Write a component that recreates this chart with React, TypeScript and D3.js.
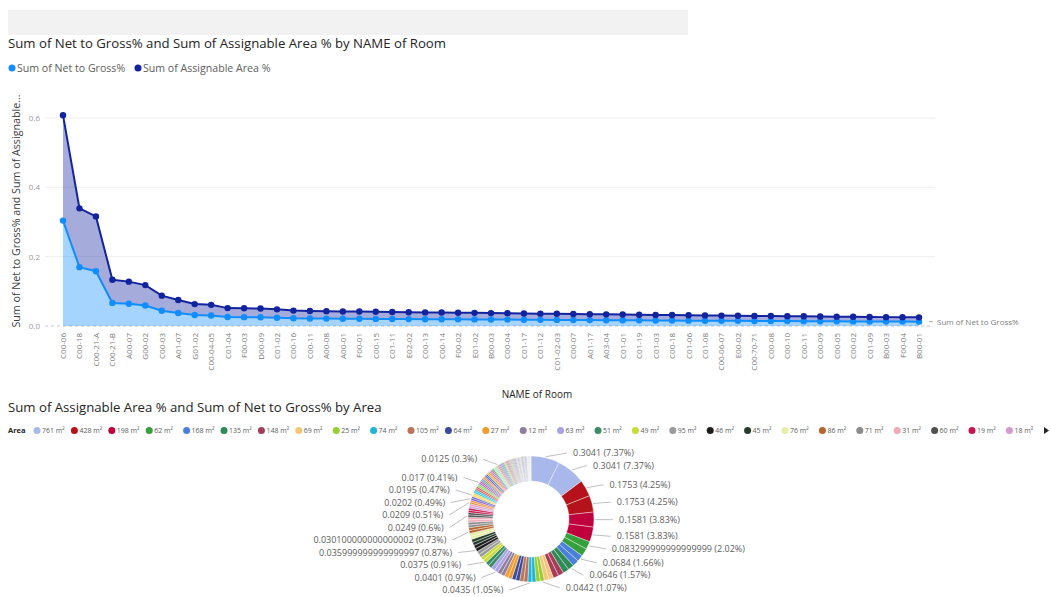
import React from 'react';
import * as d3 from 'd3';

// ---------- Line/area chart data (by NAME of Room) ----------
const roomNames = [
  'C00-06', 'C00-18', 'C00-21-A', 'C00-21-B', 'A00-07', 'G00-02', 'C00-03', 'A01-07', 'G01-02', 'C00-04-05',
  'C01-04', 'F00-03', 'D00-09', 'C01-02', 'C00-16', 'C00-11', 'A00-08', 'A00-01', 'F00-01', 'C00-15',
  'C01-11', 'E02-02', 'C00-13', 'C00-14', 'F00-02', 'E01-02', 'B00-03', 'C00-04', 'C01-17', 'C01-12',
  'C01-02-03', 'C00-07', 'A01-17', 'A03-04', 'C01-01', 'C01-19', 'C01-03', 'C00-18', 'C01-06', 'C01-08',
  'C00-06-07', 'E00-02', 'C00-70-71', 'C00-08', 'C00-10', 'C00-11', 'C00-09', 'C00-05', 'C00-02', 'C01-09',
  'B00-03', 'F00-04', 'B00-01',
];
const netToGross = [
  0.3041, 0.1697, 0.1581, 0.0666, 0.064, 0.059, 0.0438, 0.0376, 0.0316, 0.0305,
  0.0258, 0.0255, 0.0252, 0.024, 0.0222, 0.0216, 0.0214, 0.0209, 0.0209, 0.0205,
  0.0202, 0.0199, 0.0196, 0.0195, 0.0192, 0.019, 0.0186, 0.0185, 0.0181, 0.0178,
  0.0176, 0.0172, 0.017, 0.0168, 0.0165, 0.0163, 0.016, 0.0158, 0.0155, 0.0153,
  0.015, 0.0148, 0.0146, 0.0145, 0.0142, 0.014, 0.0138, 0.0135, 0.0133, 0.013,
  0.0128, 0.0127, 0.0125,
];
const assignableArea = [
  0.3041, 0.1697, 0.1581, 0.0666, 0.064, 0.059, 0.0438, 0.0376, 0.0316, 0.0305,
  0.0258, 0.0255, 0.0252, 0.024, 0.0222, 0.0216, 0.0214, 0.0209, 0.0209, 0.0205,
  0.0202, 0.0199, 0.0196, 0.0195, 0.0192, 0.019, 0.0186, 0.0185, 0.0181, 0.0178,
  0.0176, 0.0172, 0.017, 0.0168, 0.0165, 0.0163, 0.016, 0.0158, 0.0155, 0.0153,
  0.015, 0.0148, 0.0146, 0.0145, 0.0142, 0.014, 0.0138, 0.0135, 0.0133, 0.013,
  0.0128, 0.0127, 0.0125,
];
const yTicks = [0, 0.2, 0.4, 0.6];
const seriesNames = ['Sum of Net to Gross%', 'Sum of Assignable Area %'];
const seriesColors = ['#118DFF', '#12239E'];

// ---------- Donut data (by Area) ----------
const areaNames = [
  '761 m²', '428 m²', '198 m²', '62 m²', '168 m²', '135 m²', '148 m²', '69 m²', '25 m²', '74 m²',
  '105 m²', '64 m²', '27 m²', '12 m²', '63 m²', '51 m²', '49 m²', '95 m²', '46 m²', '45 m²',
  '76 m²', '86 m²', '71 m²', '31 m²', '60 m²', '19 m²', '18 m²', '56 m²', '38 m²', '22 m²',
  '33 m²', '41 m²', '29 m²', '52 m²', '17 m²', '24 m²', '36 m²', '15 m²', '21 m²', '43 m²',
  '14 m²', '26 m²', '34 m²', '16 m²', '28 m²', '13 m²', '23 m²', '11 m²', '32 m²', '20 m²',
  '10 m²', '9 m²', '37 m²', '8 m²', '30 m²', '7 m²', '35 m²', '6 m²', '5 m²', '4 m²',
];
const areaAssignable = [
  0.3041, 0.1753, 0.1581, 0.0833, 0.0684, 0.0646, 0.0587, 0.0485, 0.0442, 0.0435,
  0.0428, 0.042, 0.0412, 0.0405, 0.0401, 0.0392, 0.0375, 0.0368, 0.036, 0.0342,
  0.0325, 0.0301, 0.0285, 0.0267, 0.0249, 0.0236, 0.0222, 0.0209, 0.0202, 0.0195,
  0.019, 0.0185, 0.0178, 0.017, 0.0165, 0.016, 0.0155, 0.015, 0.0145, 0.014,
  0.0135, 0.013, 0.0125, 0.0122, 0.012, 0.0118, 0.0115, 0.0112, 0.011, 0.0108,
  0.0105, 0.0102, 0.01, 0.0098, 0.0095, 0.0092, 0.009, 0.0088, 0.0085, 0.0062,
];
const areaNetToGross = [
  0.3041, 0.1753, 0.1581, 0.0833, 0.0684, 0.0646, 0.0587, 0.0485, 0.0442, 0.0435,
  0.0428, 0.042, 0.0412, 0.0405, 0.0401, 0.0392, 0.0375, 0.0368, 0.036, 0.0342,
  0.0325, 0.0301, 0.0285, 0.0267, 0.0249, 0.0236, 0.0222, 0.0209, 0.0202, 0.0195,
  0.019, 0.0185, 0.0178, 0.017, 0.0165, 0.016, 0.0155, 0.015, 0.0145, 0.014,
  0.0135, 0.013, 0.0125, 0.0122, 0.012, 0.0118, 0.0115, 0.0112, 0.011, 0.0108,
  0.0105, 0.0102, 0.01, 0.0098, 0.0095, 0.0092, 0.009, 0.0088, 0.0085, 0.0062,
];
const areaColors = [
  '#a9b8ea', '#b5121b', '#c0003c', '#36a03c', '#4b7fdc', '#2e8b57', '#a83a5a', '#f5c57a', '#9acd32', '#1fb5d8',
  '#b87358', '#3b4a9a', '#f39a2d', '#8e7f9e', '#a9a2e6', '#3c8c6c', '#c9dc3c', '#9b9b9b', '#1e1e1e', '#243d2c',
  '#e6efa8', '#b6632e', '#8c8c8c', '#eeaab8', '#505050', '#c81450', '#d59ad0', '#f08c3c', '#6a5acd', '#ffd24d',
  '#20c0e0', '#e05050', '#7fd35f', '#c050c0', '#5f9ea0', '#ff7f50', '#4169e1', '#daa520', '#e066a0', '#708090',
  '#90ee90', '#b0c4de', '#cd853f', '#9370db', '#20b2aa', '#f4a460', '#778899', '#db7093', '#8fbc8f', '#bc8f8f',
  '#6495ed', '#d2b48c', '#a0a0b0', '#c0c0d0', '#8a8aa8', '#b0b0c8', '#9090a8', '#d0d0e0', '#c8c8d8', '#e4e4ee',
];
// value texts as Power BI printed them (floating point artefacts)
const donutRawText: Record<string, string> = {
  '3-asg': '0.083299999999999999',
  '18-asg': '0.035999999999999997',
  '21-asg': '0.030100000000000002',
};
const labeledSlices: [number, string][] = [
  [0, 'asg'], [0, 'net'], [1, 'asg'], [1, 'net'], [2, 'asg'], [2, 'net'], [3, 'asg'], [4, 'asg'], [5, 'asg'],
  [8, 'asg'], [9, 'net'], [14, 'asg'], [16, 'asg'], [18, 'asg'], [21, 'asg'], [24, 'asg'], [27, 'asg'],
  [28, 'asg'], [29, 'asg'], [33, 'asg'], [42, 'asg'],
];
const legendCount = 27;

const FONT = "'Segoe UI', 'Open Sans', sans-serif";

export default function App() {
  const W = 1051;
  const H = 597;

  // ----- line chart -----
  const idx = d3.range(roomNames.length);
  const x = d3.scalePoint<number>().domain(idx).range([63, 919]);
  const y = d3.scaleLinear().domain([0, 0.6]).range([326, 118]);
  const rows = idx.map((i) => ({ i, net: netToGross[i], asg: assignableArea[i] }));
  const stacked = d3.stack<any>().keys(['net', 'asg'])(rows);
  const areaGen = d3
    .area<any>()
    .x((d) => x(d.data.i)!)
    .y0((d) => y(d[0]))
    .y1((d) => y(d[1]));
  const lineGen = d3
    .line<any>()
    .x((d) => x(d.data.i)!)
    .y((d) => y(d[1]));

  // ----- donut -----
  const cx = 531;
  const cy = 519;
  const rOuter = 63;
  const rInner = 38;
  const slices = areaNames.flatMap((n, i) => [
    { area: i, m: 'asg', value: areaAssignable[i] },
    { area: i, m: 'net', value: areaNetToGross[i] },
  ]);
  const total = d3.sum(slices, (d) => d.value);
  const pie = d3
    .pie<any>()
    .sort(null)
    .value((d) => d.value)(slices);
  const arcGen = d3.arc<any>().innerRadius(rInner).outerRadius(rOuter);
  const pct = d3.format('.2~%');

  const labelItems = labeledSlices
    .map(([a, m]) => pie.find((p) => p.data.area === a && p.data.m === m)!)
    .map((p) => {
      const mid = (p.startAngle + p.endAngle) / 2;
      const key = `${p.data.area}-${p.data.m}`;
      return {
        p,
        mid,
        left: mid > Math.PI,
        y0: cy - 70 * Math.cos(mid),
        text: `${donutRawText[key] ?? String(p.data.value)} (${pct(p.data.value / total)})`,
        y: 0,
      };
    });
  const spread = (items: any[]) => {
    const s = items.slice().sort((a, b) => a.y0 - b.y0);
    const gap = 12.5;
    const top = cy - 66;
    const bot = cy + 71;
    s.forEach((it, k) => {
      let v = Math.max(it.y0, top);
      if (k > 0) v = Math.max(v, s[k - 1].y + gap);
      it.y = v;
    });
    for (let k = s.length - 1; k >= 0; k--) {
      let v = Math.min(s[k].y, bot);
      if (k < s.length - 1) v = Math.min(v, s[k + 1].y - gap);
      s[k].y = v;
    }
  };
  spread(labelItems.filter((d) => !d.left));
  spread(labelItems.filter((d) => d.left));

  const gridColor = '#eeeeee';

  return (
    <svg
      width={W}
      height={H}
      style={{ position: 'absolute', left: 0, top: 0, display: 'block', background: '#ffffff' }}
      fontFamily={FONT}
    >
      {/* top gray band */}
      <rect x={8} y={10} width={680} height={25} fill="#f2f2f2" />

      {/* title */}
      <text x={8} y={48} fontSize={13.2} fill="#252423">
        Sum of Net to Gross% and Sum of Assignable Area % by NAME of Room
      </text>

      {/* legend */}
      {seriesNames.map((s, k) => {
        const lx = k === 0 ? 12 : 138;
        return (
          <g key={s}>
            <circle cx={lx} cy={68} r={3.5} fill={seriesColors[k]} />
            <text x={lx + 5} y={71.5} fontSize={10.6} fill="#605e5c">
              {s}
            </text>
          </g>
        );
      })}

      {/* y axis title */}
      <text
        transform={`translate(20,211) rotate(-90)`}
        textAnchor="middle"
        fontSize={10.7}
        fill="#404040"
      >
        Sum of Net to Gross% and Sum of Assignable...
      </text>

      {/* gridlines + y ticks */}
      {yTicks.map((t) => (
        <g key={t}>
          {t > 0 && <line x1={45} x2={935} y1={y(t)} y2={y(t)} stroke={gridColor} strokeWidth={1} />}
          <text x={40} y={y(t) + 3} fontSize={8} fill="#9a9a9a" textAnchor="end">
            {d3.format('.1f')(t)}
          </text>
        </g>
      ))}
      <line x1={45} x2={930} y1={y(0)} y2={y(0)} stroke="#c8c8c8" strokeDasharray="3,3" />

      {/* areas */}
      {stacked.map((s, k) => (
        <path key={s.key} d={areaGen(s as any) || ''} fill={seriesColors[k]} fillOpacity={0.38} />
      ))}
      {/* lines */}
      {stacked.map((s, k) => (
        <path key={s.key + 'l'} d={lineGen(s as any) || ''} fill="none" stroke={seriesColors[k]} strokeWidth={2} />
      ))}
      {/* markers */}
      {stacked.map((s, k) =>
        s.map((d: any) => (
          <circle key={s.key + d.data.i} cx={x(d.data.i)} cy={y(d[1])} r={3.2} fill={seriesColors[k]} />
        ))
      )}

      {/* series end label */}
      <line
        x1={x(idx.length - 1)! + 10}
        x2={x(idx.length - 1)! + 14}
        y1={y(netToGross[netToGross.length - 1])}
        y2={y(netToGross[netToGross.length - 1])}
        stroke="#aaaaaa"
      />
      <text
        x={x(idx.length - 1)! + 18}
        y={y(netToGross[netToGross.length - 1]) + 3}
        fontSize={8}
        fill="#808080"
      >
        {seriesNames[0]}
      </text>

      {/* x labels */}
      {idx.map((i) => (
        <text
          key={'xl' + i}
          transform={`translate(${x(i)! + 3},333) rotate(-90)`}
          textAnchor="end"
          fontSize={8}
          fill="#7a7a7a"
        >
          {roomNames[i]}
        </text>
      ))}
      <text x={537} y={398} textAnchor="middle" fontSize={10} fill="#252423">
        NAME of Room
      </text>

      {/* ---------- donut section ---------- */}
      <text x={8} y={412} fontSize={13.2} fill="#252423">
        Sum of Assignable Area % and Sum of Net to Gross% by Area
      </text>
      <text x={8} y={433} fontSize={7.5} fontWeight={700} fill="#252423">
        Area
      </text>
      {areaNames.slice(0, legendCount).map((n, i) => {
        const lx = 37 + i * 37.4;
        return (
          <g key={'lg' + i}>
            <circle cx={lx} cy={430.5} r={3.5} fill={areaColors[i]} />
            <text x={lx + 5} y={433} fontSize={7} fill="#605e5c">
              {n}
            </text>
          </g>
        );
      })}
      <path d="M1044,427 L1049,430.5 L1044,434 Z" fill="#252423" />

      <g transform={`translate(${cx},${cy})`}>
        {pie.map((p, k) => (
          <path
            key={'sl' + k}
            d={arcGen(p) || ''}
            fill={areaColors[p.data.area]}
            stroke="#ffffff"
            strokeWidth={0.4}
          />
        ))}
      </g>

      {labelItems.map((it, k) => {
        const dy = Math.max(-73.5, Math.min(73.5, it.y - cy));
        const off = 84 * Math.sqrt(1 - (dy / 74) ** 2);
        const tx = it.left ? cx - off : cx + off;
        const ax = cx + (rOuter + 1) * Math.sin(it.mid);
        const ay = cy - (rOuter + 1) * Math.cos(it.mid);
        return (
          <g key={'lb' + k}>
            <polyline
              points={`${ax},${ay} ${it.left ? tx + 2 : tx - 2},${it.y}`}
              fill="none"
              stroke="#b0b0b0"
              strokeWidth={0.8}
            />
            <text
              x={it.left ? tx - 4 : tx + 4}
              y={it.y + 3}
              fontSize={9}
              fill="#605e5c"
              textAnchor={it.left ? 'end' : 'start'}
            >
              {it.text}
            </text>
          </g>
        );
      })}
    </svg>
  );
}
